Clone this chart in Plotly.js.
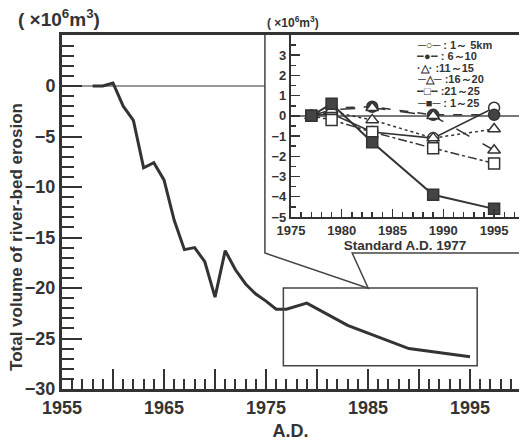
<!DOCTYPE html>
<html>
<head>
<meta charset="utf-8">
<script src="https://cdn.plot.ly/plotly-3.0.1.min.js"></script>
<style>html,body{margin:0;padding:0;background:#fff;}#chart{width:519px;height:444px;}</style>
</head>
<body>
<div id="chart"></div>
<script>
// Main chart: total volume of river-bed erosion (x10^6 m3)
const mainYears = [1958,1959,1960,1961,1962,1963,1964,1965,1966,1967,1968,1969,1970,1971,1972,1973,1974,1975,1976,1977,1979,1983,1989,1995];
const mainValues = [0,0,0.3,-2.0,-3.4,-8.1,-7.6,-9.3,-13.3,-16.2,-16.0,-17.4,-20.9,-16.3,-18.2,-19.6,-20.6,-21.3,-22.1,-22.1,-21.5,-23.7,-26.0,-26.8];

// Inset: change relative to 1977, by section
const insetYears = [1977,1979,1983,1989,1995];
const sec1to5 = [0,0.1,-0.8,-1.1,0.4];
const sec6to10 = [0,0.4,0.45,0.05,0.05];
const sec11to15 = [0,0.2,-0.2,-1.1,-0.65];
const sec16to20 = [0,0.3,0.4,0.0,-1.7];
const sec21to25 = [0,-0.2,-0.8,-1.6,-2.35];
const sec1to25 = [0,0.6,-1.3,-3.9,-4.6];

const mainTickVals = [1955,1960,1965,1970,1975,1980,1985,1990,1995];
const mainTickText = ['1955','','1965','','1975','','1985','','1995'];
const mainYTickVals = [-30,-25,-20,-15,-10,-5,0];
const insetTickVals = [1975,1980,1985,1990,1995];
const insetYTickVals = [-5,-4,-3,-2,-1,0,1,2,3];

const legendLines = ['─○─ : 1～ 5km','╌●╌ : 6～10','·△· :11～15','─△─ :16～20','╌□╌ :21～25','─■─ : 1～25'];

const INK = '#333';
const FONT = 'Liberation Sans, Arial, sans-serif';

function inset(name, y, symbol, fill, dash, width) {
  return {
    x: insetYears, y: y, name: name, xaxis: 'x2', yaxis: 'y2',
    type: 'scatter', mode: 'lines+markers',
    line: {color: INK, width: width, dash: dash},
    marker: {symbol: symbol, size: 11, color: fill, line: {color: INK, width: 1.5}},
    showlegend: false, cliponaxis: false
  };
}

const data = [
  {x: mainYears, y: mainValues, type: 'scatter', mode: 'lines', line: {color: INK, width: 3}, showlegend: false},
  inset('1~5km', sec1to5, 'circle', '#fff', 'solid', 1.5),
  inset('6~10', sec6to10, 'circle', '#444', 'dash', 1.5),
  inset('11~15', sec11to15, 'triangle-up', '#fff', 'dot', 1.5),
  inset('16~20', sec16to20, 'triangle-up', '#fff', 'longdash', 1.5),
  inset('21~25', sec21to25, 'square', '#fff', 'dashdot', 1.5),
  inset('1~25', sec1to25, 'square', '#444', 'solid', 2)
];

const tickFontMain = {family: FONT, size: 18, color: INK, weight: 'bold'};
const tickFontInset = {family: FONT, size: 13, color: INK, weight: 'bold'};

const annotations = [
  {xref: 'paper', yref: 'paper', x: -0.1, y: 1.048, xanchor: 'left', yanchor: 'middle', showarrow: false,
   text: '( ×10<sup>6</sup>m<sup>3</sup>)', font: {family: FONT, size: 19, color: INK, weight: 'bold'}},
  {xref: 'paper', yref: 'paper', x: 0.505, y: 1.037, xanchor: 'center', yanchor: 'middle', showarrow: false,
   text: '( ×10<sup>6</sup>m<sup>3</sup>)', font: {family: FONT, size: 12, color: INK, weight: 'bold'}},
  {xref: 'paper', yref: 'paper', x: -0.098, y: 0.43, xanchor: 'center', yanchor: 'middle', showarrow: false, textangle: -90,
   text: 'Total volume of river-bed erosion', font: {family: FONT, size: 17, color: INK, weight: 'bold'}}
];
legendLines.forEach(function (t, i) {
  annotations.push({xref: 'paper', yref: 'paper', x: 0.772, y: 0.9718 - i * 0.0325, xanchor: 'left', yanchor: 'middle',
    showarrow: false, align: 'left', text: t, font: {family: FONT, size: 11, color: INK, weight: 'bold'}});
});

const layout = {
  width: 519, height: 444,
  margin: {l: 62, r: 0, t: 35, b: 55},
  paper_bgcolor: '#fff', plot_bgcolor: '#fff',
  showlegend: false,
  xaxis: {
    domain: [0, 1], range: [1955, 1999.8], anchor: 'y',
    tickmode: 'array', tickvals: mainTickVals, ticktext: mainTickText,
    ticks: 'inside', ticklen: 20, tickwidth: 2, tickcolor: INK,
    minor: {dtick: 1, tick0: 1955, ticks: 'inside', ticklen: 10, tickwidth: 2, tickcolor: INK},
    showline: true, linewidth: 3, linecolor: INK, mirror: true,
    showgrid: false, zeroline: false, tickfont: tickFontMain,
    title: {text: 'A.D.', font: {family: FONT, size: 18, color: INK, weight: 'bold'}, standoff: 8}
  },
  yaxis: {
    domain: [0, 1], range: [-30, 5.05], anchor: 'x',
    tickmode: 'array', tickvals: mainYTickVals,
    ticks: 'inside', ticklen: 20, tickwidth: 2, tickcolor: INK,
    minor: {dtick: 1, tick0: 0, ticks: 'inside', ticklen: 12, tickwidth: 2, tickcolor: INK},
    showline: true, linewidth: 3, linecolor: INK,
    showgrid: false, zeroline: false, tickfont: tickFontMain
  },
  xaxis2: {
    domain: [0.501, 1], range: [1975, 1997.45], anchor: 'y2',
    tickmode: 'array', tickvals: insetTickVals,
    ticks: 'inside', ticklen: 8, tickwidth: 1.5, tickcolor: INK,
    minor: {dtick: 1, tick0: 1975, ticks: 'inside', ticklen: 5, tickwidth: 1.5, tickcolor: INK},
    showline: true, linewidth: 2, linecolor: INK,
    showgrid: false, zeroline: false, tickfont: tickFontInset,
    title: {text: 'Standard A.D. 1977', font: {family: FONT, size: 13.5, color: INK, weight: 'bold'}, standoff: 0}
  },
  yaxis2: {
    domain: [0.486, 1], range: [-5, 4.0], anchor: 'x2',
    tickmode: 'array', tickvals: insetYTickVals,
    ticks: 'inside', ticklen: 9, tickwidth: 1.5, tickcolor: INK,
    minor: {dtick: 0.5, tick0: 0, ticks: 'inside', ticklen: 5, tickwidth: 1.5, tickcolor: INK},
    showline: true, linewidth: 2, linecolor: INK,
    showgrid: false, zeroline: true, zerolinecolor: '#777', zerolinewidth: 1.5,
    tickfont: tickFontInset
  },
  shapes: [
    {type: 'line', xref: 'paper', yref: 'y', x0: 0, x1: 0.444, y0: 0, y1: 0, line: {color: '#777', width: 1.5}, layer: 'below'},
    {type: 'path', xref: 'paper', yref: 'paper', path: 'M 0.444 1 L 0.444 0.384 L 0.670 0.285 L 0.635 0.384 L 1 0.384', line: {color: '#444', width: 1.5}},
    {type: 'rect', xref: 'x', yref: 'y', x0: 1976.7, x1: 1995.7, y0: -27.7, y1: -20.0, line: {color: '#444', width: 1.5}}
  ],
  annotations: annotations
};

Plotly.newPlot('chart', data, layout, {displayModeBar: false, staticPlot: true});
</script>
</body>
</html>
